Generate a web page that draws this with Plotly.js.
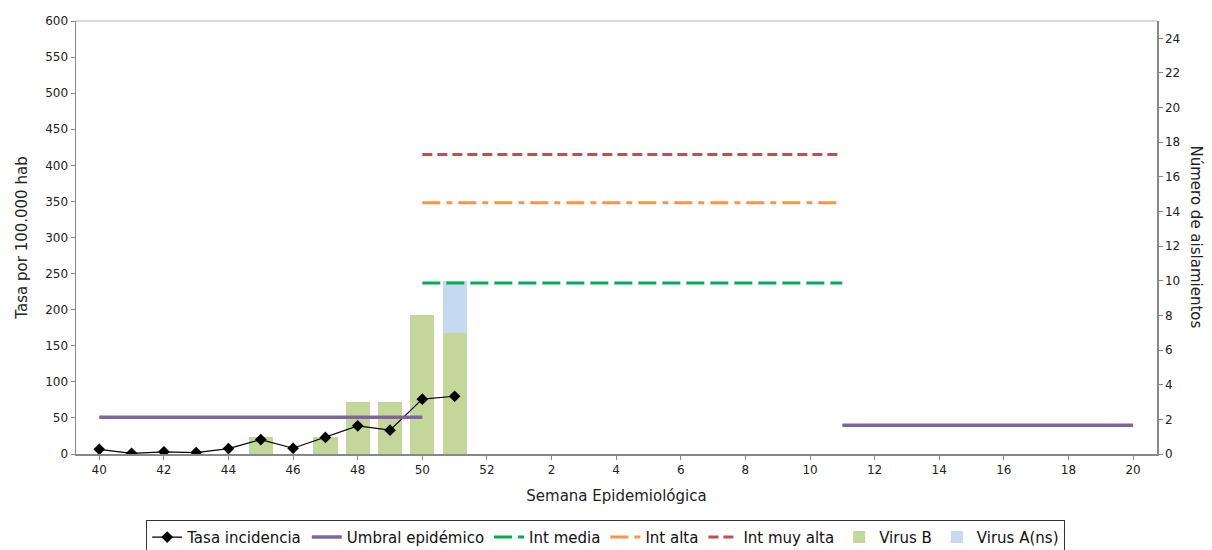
<!DOCTYPE html>
<html><head><meta charset="utf-8">
<script src="https://cdn.plot.ly/plotly-3.0.1.min.js"></script>
<style>body{margin:0;background:#fff}#c{width:1212px;height:550px}</style>
</head><body><div id="c"></div>
<script>
const weeks = ["40","41","42","43","44","45","46","47","48","49","50","51","52","1","2","3","4","5","6","7","8","9","10","11","12","13","14","15","16","17","18","19","20"];
const tickLabels = ["40","42","44","46","48","50","52","2","4","6","8","10","12","14","16","18","20"];
const tasa = [6.5,1,3,2,7.5,20,8,23,39,33,76,80,null,null,null,null,null,null,null,null,null,null,null,null,null,null,null,null,null,null,null,null,null];
const umbral = [51,51,51,51,51,51,51,51,51,51,51,null,null,null,null,null,null,null,null,null,null,null,null,40,40,40,40,40,40,40,40,40,40];
const intMedia = [null,null,null,null,null,null,null,null,null,null,237,237,237,237,237,237,237,237,237,237,237,237,237,237,null,null,null,null,null,null,null,null,null];
const intAlta = [null,null,null,null,null,null,null,null,null,null,348,348,348,348,348,348,348,348,348,348,348,348,348,348,null,null,null,null,null,null,null,null,null];
const intMuyAlta = [null,null,null,null,null,null,null,null,null,null,415,415,415,415,415,415,415,415,415,415,415,415,415,415,null,null,null,null,null,null,null,null,null];
const virusB = [0,0,0,0,0,1,0,1,3,3,8,7,0,0,0,0,0,0,0,0,0,0,0,0,0,0,0,0,0,0,0,0,0];
const virusA = [0,0,0,0,0,0,0,0,0,0,0,3,0,0,0,0,0,0,0,0,0,0,0,0,0,0,0,0,0,0,0,0,0];

const F = "DejaVu Sans, sans-serif";
const traces = [
  {name:"Tasa incidencia", x:weeks, y:tasa, yaxis:"y2", type:"scatter", mode:"lines+markers",
   line:{color:"#000", width:1.2}, marker:{symbol:"diamond", size:9, color:"#000"}, connectgaps:false},
  {name:"Umbral epidémico", x:weeks, y:umbral, yaxis:"y2", type:"scatter", mode:"lines",
   line:{color:"#8064A2", width:3.5}},
  {name:"Int media", x:weeks, y:intMedia, yaxis:"y2", type:"scatter", mode:"lines",
   line:{color:"#00B050", width:3, dash:"18px,6px"}},
  {name:"Int alta", x:weeks, y:intAlta, yaxis:"y2", type:"scatter", mode:"lines",
   line:{color:"#F79646", width:3, dash:"18px,6px,6px,6px"}},
  {name:"Int muy alta", x:weeks, y:intMuyAlta, yaxis:"y2", type:"scatter", mode:"lines",
   line:{color:"#C0504D", width:3, dash:"10px,5px"}},
  {name:"Virus B", x:weeks, y:virusB, yaxis:"y", type:"bar", marker:{color:"#C4D79B"}},
  {name:"Virus A(ns)", x:weeks, y:virusA, yaxis:"y", type:"bar", marker:{color:"#C5D9F1"}}
];

const layout = {
  width:1212, height:550,
  margin:{l:76, r:55, t:21, b:96, autoexpand:false},
  paper_bgcolor:"#fff", plot_bgcolor:"#fff",
  font:{family:F, size:12, color:"#222"},
  barmode:"stack", bargap:0.25,
  showlegend:true,
  legend:{orientation:"h", x:0.49, xanchor:"center", y:-0.152, yanchor:"top",
          bordercolor:"#333", borderwidth:1, font:{family:F, size:15, color:"#111"},
          traceorder:"normal", itemwidth:30, tracegroupgap:0},
  xaxis:{type:"category", categoryorder:"array", categoryarray:weeks,
         range:[-0.72, 32.74], tickmode:"array", tickvals:tickLabels, ticktext:tickLabels,
         showgrid:false, zeroline:false, showline:true, linecolor:"#888", linewidth:1.5,
         ticks:"outside", ticklen:4, tickcolor:"#888",
         tickfont:{family:F, size:12, color:"#222"},
         title:{text:"Semana Epidemiológica", font:{family:F, size:15, color:"#222"}, standoff:14}},
  yaxis:{side:"right", range:[0,25], tickmode:"array",
         tickvals:[0,2,4,6,8,10,12,14,16,18,20,22,24],
         showgrid:false, zeroline:false, showline:true, linecolor:"#888", linewidth:1.5,
         ticks:"outside", ticklen:4, tickcolor:"#888", tickfont:{family:F, size:12, color:"#222"}},
  yaxis2:{side:"left", overlaying:"y", range:[0,600], tickmode:"linear", tick0:0, dtick:50,
         showgrid:false, zeroline:false, showline:true, linecolor:"#888", linewidth:1.5,
         ticks:"outside", ticklen:4, tickcolor:"#888", tickfont:{family:F, size:12, color:"#222"},
         title:{text:"Tasa por 100.000 hab", font:{family:F, size:15, color:"#222"}, standoff:14}},
  shapes:[{type:"line", xref:"paper", yref:"paper", x0:0, x1:1, y0:1, y1:1, line:{color:"#ccc", width:1.5}}],
  annotations:[{text:"Número de aislamientos", xref:"paper", yref:"paper", x:1.037, y:0.5,
                xanchor:"center", yanchor:"middle", textangle:90, showarrow:false,
                font:{family:F, size:15, color:"#222"}}]
};
Plotly.newPlot("c", traces, layout, {displayModeBar:false, staticPlot:true});
</script></body></html>
